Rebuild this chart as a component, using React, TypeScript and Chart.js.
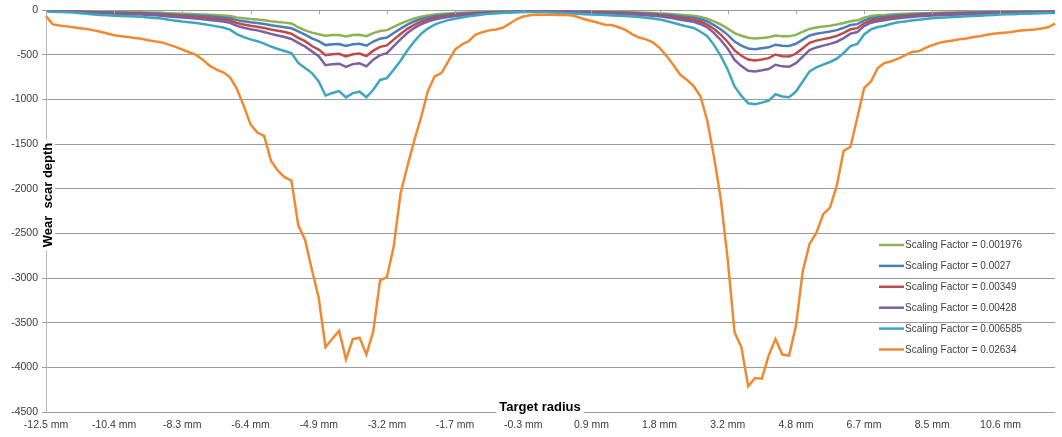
import React, { useEffect, useRef } from 'react';
import { Chart, registerables } from 'chart.js';

Chart.register(...registerables);

const xTickLabels = ['-12.5 mm', '-10.4 mm', '-8.3 mm', '-6.4 mm', '-4.9 mm', '-3.2 mm', '-1.7 mm', '-0.3 mm', '0.9 mm', '1.8 mm', '3.2 mm', '4.8 mm', '6.7 mm', '8.5 mm', '10.6 mm'];
const yTickValues = [0, -500, -1000, -1500, -2000, -2500, -3000, -3500, -4000, -4500];
const seriesNames = ['Scaling Factor = 0.001976', 'Scaling Factor = 0.0027', 'Scaling Factor = 0.00349', 'Scaling Factor = 0.00428', 'Scaling Factor = 0.006585', 'Scaling Factor = 0.02634'];
const seriesColors = ['#8db254', '#4a7ebb', '#be4b48', '#7d60a0', '#3fa6c2', '#ef8a33'];

const sf001976 = [
  -3, -5, -6, -7, -8, -10, -12, -14, -16, -17,
  -18, -19, -20, -21, -22, -24, -26, -28, -32, -35,
  -38, -40, -43, -46, -50, -54, -58, -65, -80, -90,
  -98, -104, -112, -122, -130, -138, -148, -190, -225, -250,
  -268, -285, -278, -276, -292, -278, -274, -290, -255, -232,
  -222, -185, -150, -118, -92, -72, -58, -48, -40, -35,
  -30, -27, -24, -21, -18, -16, -14, -12, -10, -9,
  -8, -7, -6, -6, -6, -7, -7, -8, -9, -10,
  -11, -12, -14, -15, -17, -19, -22, -25, -28, -31,
  -35, -40, -45, -50, -55, -62, -75, -95, -125, -160,
  -205, -255, -285, -308, -316, -310, -302, -282, -292, -292,
  -275, -240, -208, -192, -182, -172, -160, -142, -122, -112,
  -82, -65, -56, -52, -46, -42, -39, -36, -34, -32,
  -30, -28, -26, -24, -22, -21, -20, -19, -18, -17,
  -16, -15, -14, -13, -12, -11, -10, -9, -9,
];
const sf0027 = [
  -4, -7, -8, -10, -11, -13, -16, -19, -21, -23,
  -25, -26, -27, -29, -30, -33, -36, -39, -43, -48,
  -52, -55, -59, -63, -68, -74, -80, -90, -110, -122,
  -134, -142, -153, -167, -178, -189, -202, -235, -272, -315,
  -345, -390, -380, -378, -400, -380, -375, -397, -350, -318,
  -305, -255, -205, -160, -125, -98, -80, -65, -55, -48,
  -41, -37, -33, -29, -25, -22, -19, -16, -14, -12,
  -11, -10, -8, -8, -9, -10, -11, -12, -13, -14,
  -16, -18, -20, -22, -24, -26, -29, -32, -36, -40,
  -44, -50, -58, -67, -74, -82, -100, -125, -165, -215,
  -275, -350, -395, -428, -435, -425, -415, -385, -398, -400,
  -375, -328, -282, -263, -250, -238, -222, -196, -165, -155,
  -112, -88, -78, -71, -62, -56, -52, -48, -44, -40,
  -37, -35, -33, -31, -29, -28, -26, -25, -23, -22,
  -20, -19, -18, -17, -16, -15, -14, -13, -12,
];
const sf00349 = [
  -5, -9, -11, -12, -14, -17, -21, -25, -28, -30,
  -32, -34, -35, -37, -39, -42, -46, -50, -56, -62,
  -67, -71, -76, -81, -88, -96, -103, -115, -142, -160,
  -173, -184, -198, -216, -230, -244, -262, -308, -346, -400,
  -440, -502, -492, -488, -517, -492, -485, -513, -452, -410,
  -393, -328, -265, -208, -162, -127, -103, -85, -71, -62,
  -53, -48, -42, -37, -32, -28, -25, -21, -18, -16,
  -14, -12, -11, -10, -12, -13, -15, -16, -18, -19,
  -21, -23, -25, -28, -31, -34, -37, -41, -45, -50,
  -56, -64, -74, -86, -95, -105, -128, -160, -210, -275,
  -355, -450, -510, -552, -562, -550, -536, -495, -515, -518,
  -485, -425, -365, -340, -323, -308, -287, -254, -213, -200,
  -145, -114, -100, -92, -80, -72, -67, -61, -56, -52,
  -48, -45, -42, -40, -38, -36, -34, -32, -30, -28,
  -26, -24, -23, -21, -20, -19, -18, -17, -16,
];
const sf00428 = [
  -6, -11, -13, -15, -17, -21, -26, -30, -34, -37,
  -39, -41, -43, -46, -48, -52, -56, -61, -69, -76,
  -82, -87, -93, -100, -108, -117, -126, -141, -174, -195,
  -212, -225, -243, -264, -282, -299, -321, -365, -405, -460,
  -515, -615, -603, -598, -633, -603, -594, -628, -553, -502,
  -481, -401, -325, -255, -199, -156, -126, -104, -87, -76,
  -65, -58, -52, -45, -39, -35, -30, -26, -22, -20,
  -17, -15, -13, -13, -15, -17, -19, -21, -23, -25,
  -27, -30, -33, -36, -39, -42, -46, -50, -55, -61,
  -68, -78, -90, -105, -117, -128, -156, -190, -255, -335,
  -430, -555, -625, -677, -685, -672, -657, -610, -628, -633,
  -592, -518, -445, -416, -396, -376, -352, -311, -261, -244,
  -176, -139, -122, -112, -97, -88, -81, -75, -68, -63,
  -58, -55, -52, -49, -47, -44, -42, -39, -36, -34,
  -31, -29, -28, -26, -25, -23, -21, -20, -19,
];
const sf006585 = [
  -10, -17, -20, -23, -26, -32, -40, -46, -52, -56,
  -60, -63, -66, -70, -73, -80, -86, -93, -106, -116,
  -126, -133, -143, -153, -166, -180, -193, -216, -266, -300,
  -326, -346, -373, -406, -433, -456, -480, -590, -647, -703,
  -797, -955, -926, -905, -975, -928, -912, -975, -890, -780,
  -760, -665, -565, -450, -350, -265, -205, -160, -133, -110,
  -95, -80, -68, -57, -48, -40, -34, -29, -25, -22,
  -20, -19, -19, -20, -24, -28, -32, -36, -40, -43,
  -46, -50, -53, -57, -61, -65, -70, -76, -84, -93,
  -102, -120, -139, -162, -180, -198, -240, -290, -390, -515,
  -665, -853, -959, -1041, -1053, -1034, -1011, -940, -966, -974,
  -910, -797, -684, -640, -609, -579, -541, -478, -402, -376,
  -271, -214, -188, -173, -150, -135, -125, -115, -105, -97,
  -90, -84, -80, -76, -72, -68, -64, -60, -56, -52,
  -48, -45, -43, -40, -38, -35, -33, -31, -29,
];
const sf02634 = [
  -64, -158, -170, -180, -190, -200, -210, -225, -240, -260,
  -280, -290, -300, -310, -318, -335, -348, -360, -385, -410,
  -440, -470, -500, -555, -620, -665, -695, -750, -880, -1070,
  -1278, -1370, -1407, -1685, -1796, -1870, -1907, -2406, -2573, -2906,
  -3220, -3775, -3680, -3590, -3912, -3683, -3668, -3856, -3597, -3024,
  -2990, -2647, -2055, -1750, -1463, -1204, -908, -740, -703, -571,
  -440, -383, -346, -272, -245, -225, -214, -195, -150, -101,
  -70, -55, -48, -50, -50, -52, -53, -56, -75, -100,
  -120, -140, -162, -165, -190, -220, -270, -305, -325, -360,
  -420, -510, -610, -720, -778, -850, -963, -1240, -1648, -2128,
  -2795, -3608, -3775, -4212, -4119, -4127, -3868, -3683, -3856, -3868,
  -3535, -2924, -2617, -2491, -2284, -2210, -1962, -1574, -1529, -1204,
  -872, -797, -647, -590, -571, -541, -504, -466, -459, -421,
  -391, -365, -350, -338, -325, -316, -300, -290, -275, -263,
  -255, -250, -238, -226, -220, -214, -205, -190, -150,
];

const seriesValues = [sf001976, sf0027, sf00349, sf00428, sf006585, sf02634];
const categories: string[] = sf001976.map((_, i) => (i % 10 === 0 && xTickLabels[i / 10] ? xTickLabels[i / 10] : ''));

const FONT = '"Liberation Sans", Arial, sans-serif';

const decorPlugin = {
  id: 'decor',
  afterDraw(chart: any) {
    const { ctx, chartArea, scales } = chart;
    const xs = scales.x;
    ctx.save();
    // tick marks hanging from the top (value-0) axis line
    ctx.strokeStyle = '#a6a6a6';
    ctx.lineWidth = 1;
    for (let i = 0; i < categories.length; i += 10) {
      const px = Math.round(xs.getPixelForValue(i)) + 0.5;
      ctx.beginPath();
      ctx.moveTo(px, chartArea.top);
      ctx.lineTo(px, chartArea.top + 4);
      ctx.stroke();
    }
    // y axis title, overlapping the plot
    ctx.font = `bold 13px ${FONT}`;
    const yt = 'Wear  scar depth';
    const yw = ctx.measureText(yt).width;
    const ycx = 47;
    const ycy = 195;
    ctx.fillStyle = '#ffffff';
    ctx.fillRect(ycx - 8, ycy - yw / 2 - 3, 16, yw + 6);
    ctx.save();
    ctx.translate(ycx, ycy);
    ctx.rotate(-Math.PI / 2);
    ctx.fillStyle = '#000000';
    ctx.textAlign = 'center';
    ctx.textBaseline = 'middle';
    ctx.fillText(yt, 0, 1);
    ctx.restore();
    // x axis title
    const xt = 'Target radius';
    ctx.font = `bold 13px ${FONT}`;
    const xw = ctx.measureText(xt).width;
    const xcx = 540;
    const xcy = 407;
    ctx.fillStyle = '#ffffff';
    ctx.fillRect(xcx - xw / 2 - 3, xcy - 8, xw + 6, 16);
    ctx.fillStyle = '#000000';
    ctx.textAlign = 'center';
    ctx.textBaseline = 'middle';
    ctx.fillText(xt, xcx, xcy);
    // legend inside the plot
    ctx.font = `10px ${FONT}`;
    ctx.textAlign = 'left';
    ctx.textBaseline = 'middle';
    chart.data.datasets.forEach((ds: any, k: number) => {
      const ly = 245 + k * 20.9;
      ctx.strokeStyle = ds.borderColor;
      ctx.lineWidth = 2.5;
      ctx.beginPath();
      ctx.moveTo(879, ly);
      ctx.lineTo(904, ly);
      ctx.stroke();
      ctx.fillStyle = '#404040';
      ctx.fillText(ds.label, 905, ly + 0.5);
    });
    ctx.restore();
  },
};

export default function App() {
  const ref = useRef<HTMLCanvasElement | null>(null);
  useEffect(() => {
    if (!ref.current) return;
    const chart = new Chart(ref.current, {
      type: 'line',
      data: {
        labels: categories,
        datasets: seriesValues.map((vals, k) => ({
          label: seriesNames[k],
          data: vals,
          borderColor: seriesColors[k],
          backgroundColor: seriesColors[k],
          borderWidth: 2.5,
          pointRadius: 0,
          pointHoverRadius: 0,
          tension: 0,
          fill: false,
          order: seriesValues.length - 1 - k,
        })),
      },
      options: {
        animation: false,
        responsive: true,
        maintainAspectRatio: false,
        layout: { padding: { top: 9, right: 3, left: 0, bottom: 0 } },
        plugins: {
          legend: { display: false },
          tooltip: { enabled: false },
        },
        scales: {
          x: {
            type: 'category',
            offset: false,
            grid: { display: false, drawTicks: false },
            border: { display: false },
            ticks: {
              autoSkip: false,
              maxRotation: 0,
              minRotation: 0,
              padding: 7,
              color: '#3a3a3a',
              font: { family: FONT, size: 10.5 },
              callback: (_v: any, idx: number) => categories[idx],
            },
            afterFit: (s: any) => {
              s.height = 25;
            },
          },
          y: {
            min: -4500,
            max: 0,
            grid: { color: '#9a9a9a', lineWidth: 1, tickLength: 4, drawTicks: true },
            border: { display: true, color: '#b5b5b5' },
            afterBuildTicks: (s: any) => {
              s.ticks = yTickValues.map((v) => ({ value: v }));
            },
            ticks: {
              padding: 4,
              color: '#3a3a3a',
              font: { family: FONT, size: 10.5 },
              callback: (v: any) => String(v),
            },
            afterFit: (s: any) => {
              s.width = 46;
            },
          },
        },
      },
      plugins: [decorPlugin],
    });
    return () => chart.destroy();
  }, []);
  return (
    <div style={{ position: 'fixed', left: 0, top: 0, width: 1062, height: 437, background: '#fff' }}>
      <canvas ref={ref} />
    </div>
  );
}
